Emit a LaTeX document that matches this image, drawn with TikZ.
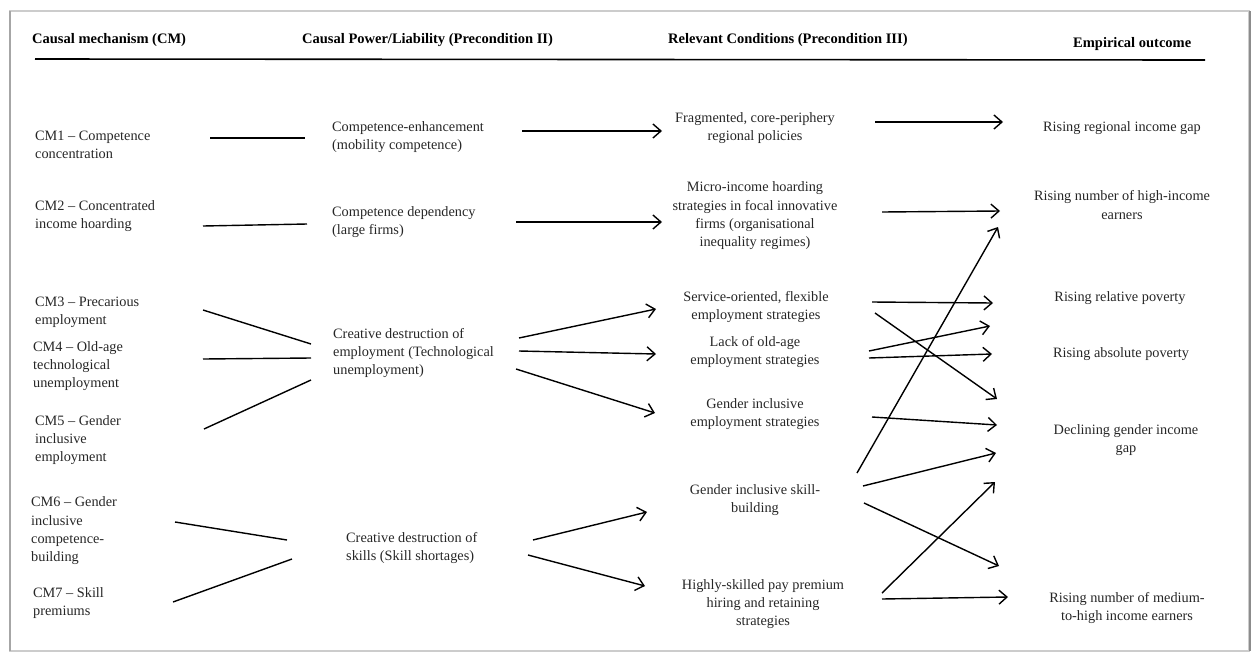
\documentclass[tikz,border=0pt]{standalone}
\usepackage{fontspec}
\setmainfont{Liberation Serif}
\usetikzlibrary{arrows.meta}
\begin{document}
\begin{tikzpicture}[x=1pt, y=-1pt, >={Straight Barb[length=8pt,width=14pt]}]
    \tikzstyle{txt_font} = [font=\fontsize{14.3}{18.3}\selectfont, text=black!85]
    \tikzstyle{hd_node}  = [anchor=west, inner sep=0pt, font=\fontsize{14.5}{18.3}\selectfont\bfseries]
    \tikzstyle{cm_node}  = [txt_font, anchor=west, align=left,   inner sep=0pt]
    \tikzstyle{pw_node}  = [txt_font, anchor=west, align=left,   inner sep=0pt]
    \tikzstyle{cd_node}  = [txt_font, anchor=center, align=center, inner sep=0pt]
    \tikzstyle{oc_node}  = [txt_font, anchor=center, align=center, inner sep=0pt]
    \tikzstyle{link}     = [line width=1.4pt]

    \useasboundingbox (0,0) rectangle (1254,654);
    \draw[black!20, line width=1.2pt] (10,11) rectangle (1249,651);
    \draw[black!35, line width=2pt] (10,11) -- (10,651);
    \draw[black!45, line width=2.5pt] (1250,11) -- (1250,651);

    \node[hd_node] at (32, 40)  (hd_cm) {Causal mechanism (CM)};
    \node[hd_node] at (302, 40) (hd_pw) {Causal Power/Liability (Precondition II)};
    \node[hd_node] at (668, 40) (hd_cd) {Relevant Conditions (Precondition III)};
    \node[hd_node] at (1073, 44) (hd_oc) {Empirical outcome};
    \draw[line width=1.6pt] (35,59) -- (1205,60);

    \node[cm_node] at (35, 145) (cm1) {CM1 -- Competence\\concentration};
    \node[cm_node] at (35, 216) (cm2) {CM2 -- Concentrated\\income hoarding};
    \node[cm_node] at (35, 312) (cm3) {CM3 -- Precarious\\employment};
    \node[cm_node] at (33, 366) (cm4) {CM4 -- Old-age\\technological\\unemployment};
    \node[cm_node] at (35, 440) (cm5) {CM5 -- Gender\\inclusive\\employment};
    \node[cm_node] at (31, 531) (cm6) {CM6 -- Gender\\inclusive\\competence-\\building};
    \node[cm_node] at (33, 603) (cm7) {CM7 -- Skill\\premiums};

    \node[pw_node] at (332, 137) (pw1) {Competence-enhancement\\(mobility competence)};
    \node[pw_node] at (332, 222) (pw2) {Competence dependency\\(large firms)};
    \node[pw_node] at (333, 353) (pw3) {Creative destruction of\\employment (Technological\\unemployment)};
    \node[pw_node] at (346, 548) (pw4) {Creative destruction of\\skills (Skill shortages)};

    \node[cd_node] at (755, 128) (cd1) {Fragmented, core-periphery\\regional policies};
    \node[cd_node] at (755, 216) (cd2) {Micro-income hoarding\\strategies in focal innovative\\firms (organisational\\inequality regimes)};
    \node[cd_node] at (756, 307) (cd3) {Service-oriented, flexible\\employment strategies};
    \node[cd_node] at (755, 352) (cd4) {Lack of old-age\\employment strategies};
    \node[cd_node] at (755, 414) (cd5) {Gender inclusive\\employment strategies};
    \node[cd_node] at (755, 500) (cd6) {Gender inclusive skill-\\building};
    \node[cd_node] at (763, 604) (cd7) {Highly-skilled pay premium\\hiring and retaining\\strategies};

    \node[oc_node] at (1122, 128) (oc1) {Rising regional income gap};
    \node[oc_node] at (1122, 205) (oc2) {Rising number of high-income\\earners};
    \node[oc_node] at (1120, 298) (oc3) {Rising relative poverty};
    \node[oc_node] at (1121, 354) (oc4) {Rising absolute poverty};
    \node[oc_node] at (1126, 440) (oc5) {Declining gender income\\gap};
    \node[oc_node] at (1127, 608) (oc6) {Rising number of medium-\\to-high income earners};

    % mechanisms -> powers
    \draw[link]
      ([shift={(175,-7)}]cm1.west)  edge ([shift={(-27,1)}]pw1.west)
      ([shift={(168,10)}]cm2.west)  edge ([shift={(-25,2)}]pw2.west)
      ([shift={(168,-2)}]cm3.west)  edge ([shift={(-22,-9)}]pw3.west)
      ([shift={(170,-7)}]cm4.west)  edge ([shift={(-22,5)}]pw3.west)
      ([shift={(169,-11)}]cm5.west) edge ([shift={(-22,27)}]pw3.west)
      ([shift={(144,-9)}]cm6.west)  edge ([shift={(-59,-8)}]pw4.west)
      ([shift={(140,-1)}]cm7.west)  edge ([shift={(-54,11)}]pw4.west)
    ;

    % powers -> conditions
    \path[link, ->]
      ([shift={(190,-6)}]pw1.west)  edge ([shift={(-93,3)}]cd1.center)
      ([shift={(184,0)}]pw2.west)   edge ([shift={(-93,6)}]cd2.center)
      ([shift={(186,-15)}]pw3.west) edge ([shift={(-100,2)}]cd3.center)
      ([shift={(186,-2)}]pw3.west)  edge ([shift={(-99,2)}]cd4.center)
      ([shift={(183,16)}]pw3.west)  edge ([shift={(-100,-1)}]cd5.center)
      ([shift={(187,-8)}]pw4.west)  edge ([shift={(-108,12)}]cd6.center)
      ([shift={(182,7)}]pw4.west)   edge ([shift={(-118,-18)}]cd7.center)
    ;

    % conditions -> outcomes
    \path[link, ->]
      ([shift={(120,-6)}]cd1.center)  edge ([shift={(-119,-6)}]oc1.center)
      ([shift={(127,-4)}]cd2.center)  edge ([shift={(-122,6)}]oc2.center)
      ([shift={(116,-5)}]cd3.center)  edge ([shift={(-127,5)}]oc3.center)
      ([shift={(119,6)}]cd3.center)   edge ([shift={(-129,-41)}]oc5.center)
      ([shift={(114,-1)}]cd4.center)  edge ([shift={(-130,28)}]oc3.center)
      ([shift={(114,6)}]cd4.center)   edge ([shift={(-129,0)}]oc4.center)
      ([shift={(117,3)}]cd5.center)   edge ([shift={(-129,-15)}]oc5.center)
      ([shift={(102,-27)}]cd6.center) edge ([shift={(-124,22)}]oc2.center)
      ([shift={(108,-14)}]cd6.center) edge ([shift={(-130,13)}]oc5.center)
      ([shift={(109,3)}]cd6.center)   edge ([shift={(-128,-42)}]oc6.center)
      ([shift={(119,-11)}]cd7.center) edge ([shift={(-131,42)}]oc5.center)
      ([shift={(119,-5)}]cd7.center)  edge ([shift={(-119,-11)}]oc6.center)
    ;
  \end{tikzpicture}
\end{document}
